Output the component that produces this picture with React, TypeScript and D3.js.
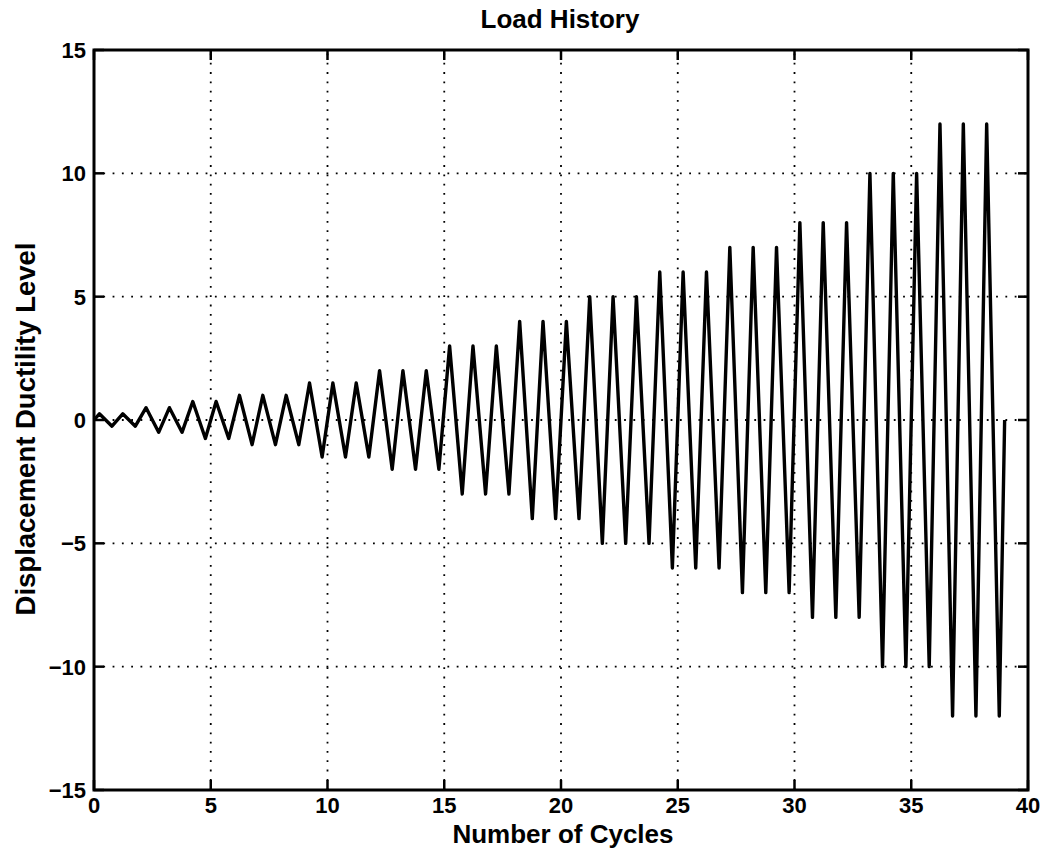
import React from 'react';
import * as d3 from 'd3';

// peak ductility level reached in each cycle (positive peak, then the same negative)
const amplitudes = [
  0.25, 0.25, 0.5, 0.5, 0.75, 0.75,
  1, 1, 1, 1.5, 1.5, 1.5, 2, 2, 2,
  3, 3, 3, 4, 4, 4, 5, 5, 5,
  6, 6, 6, 7, 7, 7, 8, 8, 8,
  10, 10, 10, 12, 12, 12,
];
const xTicks = [0, 5, 10, 15, 20, 25, 30, 35, 40];
const yTicks = [-15, -10, -5, 0, 5, 10, 15];

const title = 'Load History';
const xLabel = 'Number of Cycles';
const yLabel = 'Displacement Ductility Level';

const W = 1052;
const H = 863;
const margin = { top: 50, right: 24, bottom: 73, left: 94 };
const font = '"Liberation Sans", Arial, Helvetica, sans-serif';

const fmt = (v: number) => (v < 0 ? '\u2212' + Math.abs(v) : String(v));

export default function App() {
  const x = d3.scaleLinear().domain([0, 40]).range([margin.left, W - margin.right]);
  const y = d3.scaleLinear().domain([-15, 15]).range([H - margin.bottom, margin.top]);

  // each cycle: up to +A about a quarter in, down to -A about three quarters in
  const pts: [number, number][] = [[0, 0]];
  amplitudes.forEach((a, i) => {
    pts.push([i + 0.23, a]);
    pts.push([i + 0.77, -a]);
  });
  pts.push([amplitudes.length, 0]);

  const line = d3
    .line<[number, number]>()
    .x((d) => x(d[0]))
    .y((d) => y(d[1]));

  const x0 = x(0);
  const x1 = x(40);
  const y0 = y(-15);
  const y1 = y(15);
  const tick = 10;

  return (
    <svg
      width={W}
      height={H}
      style={{ position: 'absolute', left: 0, top: 0, background: '#fff' }}
      fontFamily={font}
      fontWeight="bold"
    >
      <rect width={W} height={H} fill="#fff" />
      <g stroke="#000" strokeWidth={1.8} strokeDasharray="1.8,7.5" fill="none">
        {xTicks.slice(1, -1).map((t) => (
          <line key={'gx' + t} x1={x(t)} x2={x(t)} y1={y0} y2={y1} />
        ))}
        {yTicks.slice(1, -1).map((t) => (
          <line key={'gy' + t} x1={x0} x2={x1} y1={y(t)} y2={y(t)} />
        ))}
      </g>
      <path d={line(pts) || ''} fill="none" stroke="#000" strokeWidth={3.4} strokeLinejoin="round" />
      <g stroke="#000" strokeWidth={2.5}>
        {xTicks.map((t) => (
          <g key={'tx' + t}>
            <line x1={x(t)} x2={x(t)} y1={y0} y2={y0 - tick} />
            <line x1={x(t)} x2={x(t)} y1={y1} y2={y1 + tick} />
          </g>
        ))}
        {yTicks.map((t) => (
          <g key={'ty' + t}>
            <line x1={x0} x2={x0 + tick} y1={y(t)} y2={y(t)} />
            <line x1={x1} x2={x1 - tick} y1={y(t)} y2={y(t)} />
          </g>
        ))}
      </g>
      <rect x={x0} y={y1} width={x1 - x0} height={y0 - y1} fill="none" stroke="#000" strokeWidth={3} />
      <g fontSize={22} fill="#000">
        {xTicks.map((t) => (
          <text key={'lx' + t} x={x(t)} y={y0 + 23} textAnchor="middle">
            {fmt(t)}
          </text>
        ))}
        {yTicks.map((t) => (
          <text key={'ly' + t} x={x0 - 8} y={y(t) + 8} textAnchor="end">
            {fmt(t)}
          </text>
        ))}
      </g>
      <text x={560} y={28} textAnchor="middle" fontSize={26}>
        {title}
      </text>
      <text x={563} y={843} textAnchor="middle" fontSize={26}>
        {xLabel}
      </text>
      <text transform={`translate(35,${429}) rotate(-90)`} textAnchor="middle" fontSize={27.5}>
        {yLabel}
      </text>
    </svg>
  );
}
